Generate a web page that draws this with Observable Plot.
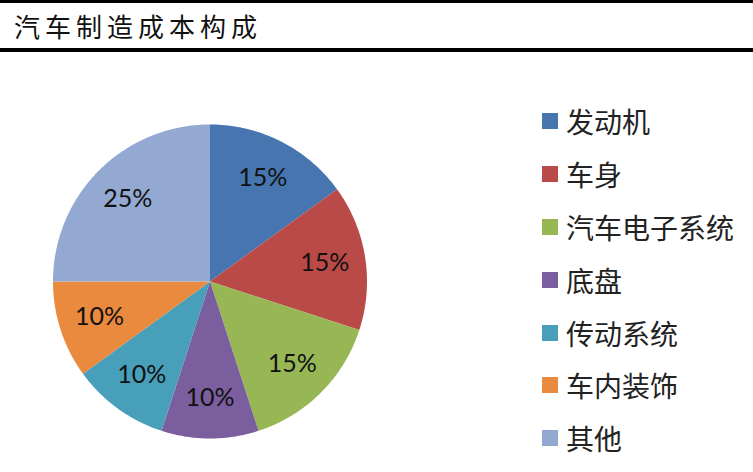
<!DOCTYPE html>
<html>
<head>
<meta charset="utf-8">
<script src="https://cdn.jsdelivr.net/npm/d3@7"></script>
<script src="https://cdn.jsdelivr.net/npm/@observablehq/plot@0.6"></script>
<style>
  html, body { margin: 0; padding: 0; background: #fff; }
  #wrap { position: relative; width: 753px; height: 472px; overflow: hidden; }
  #title {
    position: absolute; left: 0; top: 0; width: 753px; height: 45px;
    border-top: 3px solid #000; border-bottom: 4px solid #000;
    font-family: "Noto Sans CJK SC", sans-serif; font-size: 26px; letter-spacing: 5px;
    line-height: 45px; padding-left: 14px; box-sizing: content-box; color: #111;
  }
  #chart { position: absolute; left: 0; top: 52px; }
  #legend { position: absolute; left: 542px; top: 95px; font-family: "Noto Sans CJK SC", sans-serif; font-size: 28px; color: #222; }
  .row { display: flex; align-items: center; height: 52.8px; }
  .sw { width: 16px; height: 16px; margin-right: 8px; flex: none; }
</style>
</head>
<body>
<div id="wrap">
  <div id="title"></div>
  <div id="chart"></div>
  <div id="legend"></div>
</div>
<script>
const titleText = "汽车制造成本构成";
const categories = ["发动机", "车身", "汽车电子系统", "底盘", "传动系统", "车内装饰", "其他"];
const values = [15, 15, 15, 10, 10, 10, 25];
const colors = ["#4775B0", "#BA4A47", "#97B755", "#7B5E9E", "#479FBA", "#E98A3E", "#93A9D1"];

document.getElementById("title").textContent = titleText;

const data = categories.map((name, i) => ({name, value: values[i]}));
const arcs = d3.pie().sort(null).value(d => d.value)(data);

// polygon points for each slice, in unit-circle coordinates (y up)
const pts = [];
arcs.forEach(a => {
  const name = a.data.name;
  pts.push({name, x: 0, y: 0});
  const n = Math.max(8, Math.ceil((a.endAngle - a.startAngle) / 0.01));
  for (let k = 0; k <= n; k++) {
    const t = a.startAngle + (a.endAngle - a.startAngle) * k / n;
    pts.push({name, x: Math.sin(t), y: Math.cos(t)});
  }
  pts.push({name, x: 0, y: 0});
});

const labelR = 0.74;
const labels = arcs.map(a => {
  const m = (a.startAngle + a.endAngle) / 2;
  return {name: a.data.name, x: labelR * Math.sin(m), y: labelR * Math.cos(m), text: a.data.value + "%"};
});

const cx = 209.5, cy = 229, R = 157;
const plot = Plot.plot({
  width: 753,
  height: 420,
  margin: 0,
  x: {domain: [-1, 1], range: [cx - R, cx + R], axis: null},
  y: {domain: [-1, 1], range: [cy + R, cy - R], axis: null},
  color: {domain: categories, range: colors},
  style: {background: "transparent"},
  marks: [
    Plot.line(pts, {x: "x", y: "y", z: "name", fill: "name", stroke: "none", curve: "linear"}),
    Plot.text(labels, {x: "x", y: "y", text: "text", fontSize: 25, fill: "#111",
      fontFamily: "Lato, 'Open Sans', sans-serif", textAnchor: "middle"})
  ]
});
document.getElementById("chart").appendChild(plot);

const legend = document.getElementById("legend");
categories.forEach((c, i) => {
  const row = document.createElement("div");
  row.className = "row";
  const sw = document.createElement("div");
  sw.className = "sw";
  sw.style.background = colors[i];
  const lab = document.createElement("span");
  lab.textContent = c;
  row.appendChild(sw);
  row.appendChild(lab);
  legend.appendChild(row);
});
</script>
</body>
</html>
